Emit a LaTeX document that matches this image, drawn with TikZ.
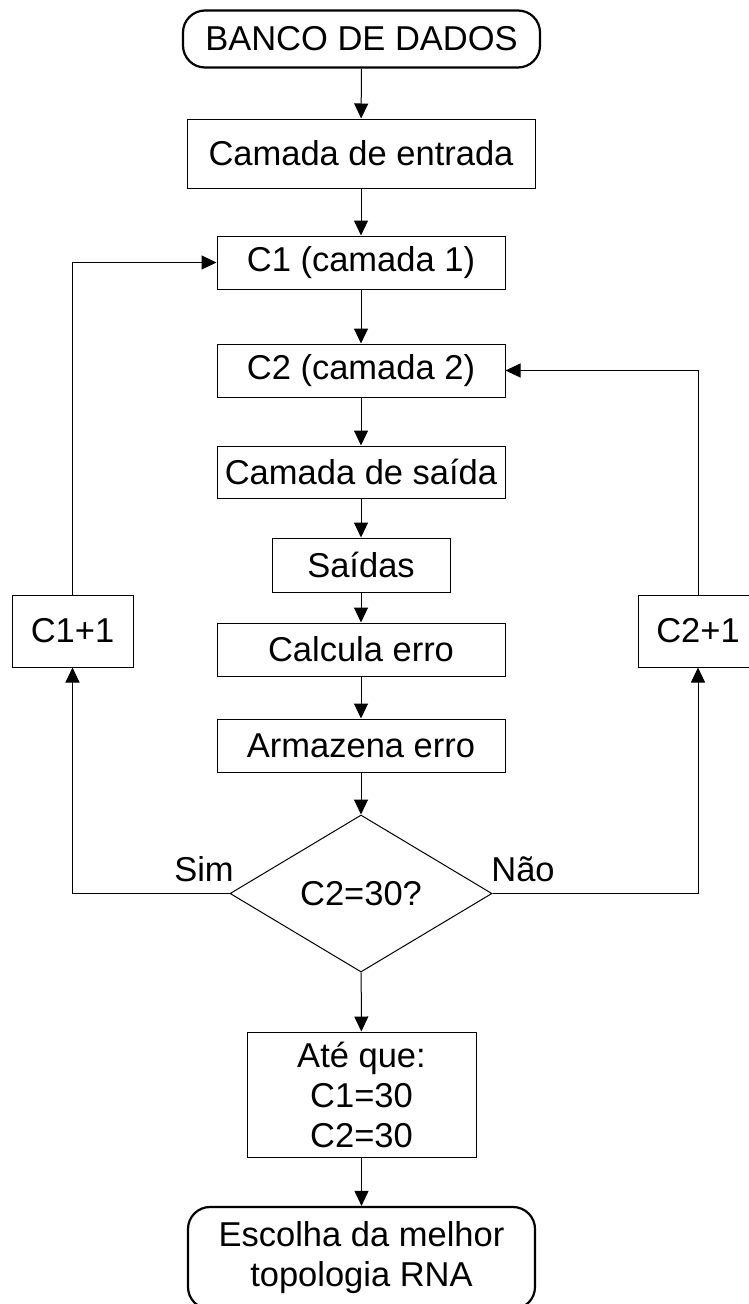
\documentclass[tikz,border=0pt]{standalone}
\usepackage{fontspec}
\setmainfont{Liberation Sans}
\usetikzlibrary{arrows.meta,shapes.geometric}
\tikzset{
  base/.style={font=\fontsize{34.5}{40}\selectfont, inner sep=0pt, align=center},
  box/.style={base, draw, line width=1pt, rectangle},
  roundbox/.style={base, draw, line width=2.2pt, rectangle, rounded corners=22pt},
  decision/.style={base, draw, line width=1pt, diamond, aspect=1.67, minimum width=262pt, minimum height=157pt},
  arr/.style={line width=1pt, -{Triangle[width=14pt,length=15pt]}},
  lbl/.style={base}
}
\begin{document}
\begin{tikzpicture}[x=1pt,y=-1pt]
\useasboundingbox (0,0) rectangle (749,1304);
\clip (0,0) rectangle (749,1304);
\node[roundbox, minimum width=357pt, minimum height=57pt] (banco) at (361.5,39) {BANCO DE DADOS};
\node[box, minimum width=348pt, minimum height=69pt] (entrada) at (361,153.5) {Camada de entrada};
\node[box, minimum width=288pt, minimum height=53pt] (c1) at (361,262.5) {C1 (camada 1)};
\node[box, minimum width=288pt, minimum height=53pt] (c2) at (361,370.5) {C2 (camada 2)};
\node[box, minimum width=288pt, minimum height=52pt] (saida) at (361,472) {Camada de saída};
\node[box, minimum width=178pt, minimum height=54pt] (saidas) at (361,565) {Saídas};
\node[box, minimum width=288pt, minimum height=53pt] (calc) at (361,649.5) {Calcula erro};
\node[box, minimum width=288pt, minimum height=53pt] (arm) at (361,745.5) {Armazena erro};
\node[decision] (dia) at (361,893.5) {C2=30?};
\node[box, minimum width=229pt, minimum height=125pt] (ate) at (361.5,1094.5) {Até que:\\C1=30\\C2=30};
\node[roundbox, minimum width=347pt, minimum height=102pt] (final) at (361.5,1258) {Escolha da melhor\\topologia RNA};
\node[box, minimum width=121pt, minimum height=72pt] (c1p) at (72.5,631) {C1+1};
\node[box, minimum width=120pt, minimum height=72pt] (c2p) at (698,631) {C2+1};
\node[lbl] (sim) at (204,869) {Sim};
\node[lbl] (nao) at (523,869) {Não};
\draw[arr] (banco) -- (entrada);
\draw[arr] (entrada) -- (c1);
\draw[arr] (c1) -- (c2);
\draw[arr] (c2) -- (saida);
\draw[arr] (saida) -- (saidas);
\draw[arr] (saidas) -- (calc);
\draw[arr] (calc) -- (arm);
\draw[arr] (arm) -- (dia);
\draw[arr] (dia) -- (ate);
\draw[arr] (ate) -- (final);
\draw[arr] (dia.west) -| (c1p.south);
\draw[arr] (c1p.north) |- (c1.west);
\draw[arr] (dia.east) -| (c2p.south);
\draw[arr] (c2p.north) |- (c2.east);
\end{tikzpicture}
\end{document}
